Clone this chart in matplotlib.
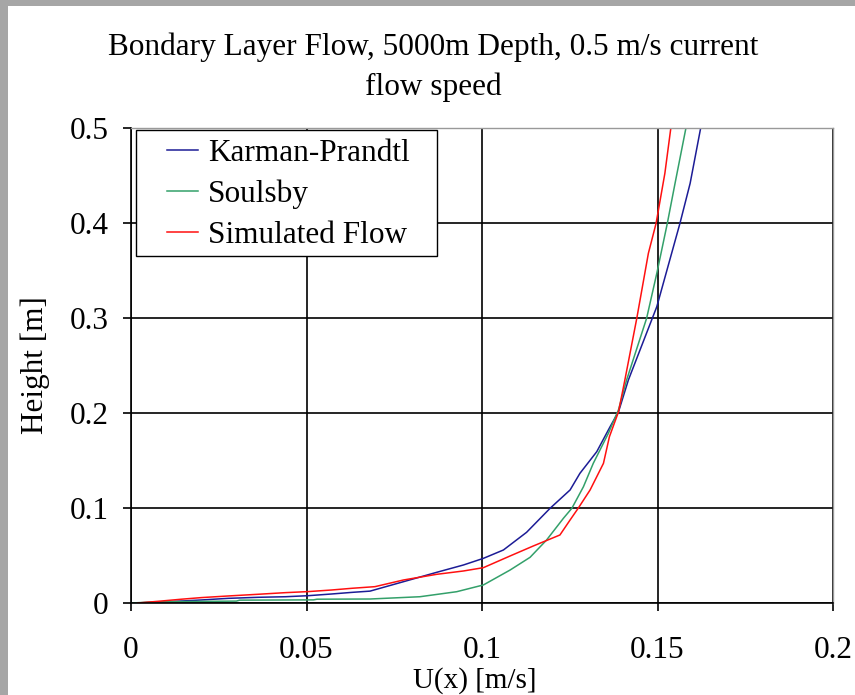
import matplotlib
matplotlib.use('Agg')
import matplotlib.pyplot as plt
from matplotlib.patches import Rectangle

# ---------------------------------------------------------------------------
# data (U [m/s], height [m])
# ---------------------------------------------------------------------------

kp_u = [0.0019, 0.0144, 0.0201, 0.0277, 0.0363, 0.0440, 0.0505, 0.0572,
        0.0630, 0.0681, 0.0776, 0.0871, 0.0947, 0.1004, 0.1061, 0.1127,
        0.1194, 0.1251, 0.1279, 0.1327, 0.1365, 0.1389, 0.1417, 0.1498,
        0.1564, 0.1593, 0.1623]
kp_z = [0.0, 0.0021, 0.0032, 0.0049, 0.0060, 0.0066, 0.0077, 0.0095,
        0.0112, 0.0125, 0.0224, 0.0323, 0.0400, 0.0470, 0.0558, 0.0744,
        0.0997, 0.1190, 0.1365, 0.1593, 0.1856, 0.2014, 0.2347, 0.3119,
        0.3997, 0.4418, 0.5000]

soul_u = [0.0, 0.0078, 0.0300, 0.0310, 0.0520, 0.0530, 0.0681, 0.0823,
          0.0928, 0.1004, 0.1080, 0.1137, 0.1184, 0.1232, 0.1256, 0.1289,
          0.1317, 0.1360, 0.1389, 0.1412, 0.1469, 0.1498, 0.1528, 0.1550,
          0.1581]
soul_z = [0.0, 0.0013, 0.0020, 0.0030, 0.0033, 0.0040, 0.0042, 0.0066,
          0.0119, 0.0190, 0.0347, 0.0481, 0.0663, 0.0892, 0.0997, 0.1224,
          0.1470, 0.1786, 0.2035, 0.2347, 0.2997, 0.3470, 0.3997, 0.4418,
          0.5000]

sim_u = [0.0019, 0.0078, 0.0144, 0.0201, 0.0277, 0.0363, 0.0440, 0.0505,
         0.0572, 0.0630, 0.0695, 0.0776, 0.0871, 0.0947, 0.1004, 0.1080,
         0.1146, 0.1222, 0.1251, 0.1274, 0.1308, 0.1346, 0.1363, 0.1389,
         0.1407, 0.1441, 0.1474, 0.1496, 0.1521, 0.1538]
sim_z = [0.0, 0.0018, 0.0040, 0.0057, 0.0074, 0.0092, 0.0109, 0.0120,
         0.0137, 0.0155, 0.0172, 0.0242, 0.0302, 0.0337, 0.0372, 0.0495,
         0.0600, 0.0716, 0.0874, 0.0997, 0.1190, 0.1470, 0.1750, 0.2014,
         0.2347, 0.2997, 0.3681, 0.3997, 0.4523, 0.5000]

x_ticks = [0, 0.05, 0.1, 0.15, 0.2]
x_tick_labels = ['0', '0.05', '0.1', '0.15', '0.2']
y_ticks = [0, 0.1, 0.2, 0.3, 0.4, 0.5]
y_tick_labels = ['0', '0.1', '0.2', '0.3', '0.4', '0.5']

plt.rcParams['font.family'] = ['Liberation Serif', 'DejaVu Serif']
FS = 22.5

W, H = 855, 695
fig = plt.figure(figsize=(W / 100, H / 100), dpi=100, facecolor='white')

# grey frame at left / top edge of the screenshot
fig.patches.append(Rectangle((0, 0), 8 / W, 1, transform=fig.transFigure,
                             facecolor='#a6a6a6', edgecolor='none', zorder=0))
fig.patches.append(Rectangle((0, 1 - 6 / H), 1, 6 / H, transform=fig.transFigure,
                             facecolor='#a6a6a6', edgecolor='none', zorder=0))

ax = fig.add_axes([131 / W, 1 - 603 / H, (833 - 131) / W, (603 - 128) / H])

ax.plot(kp_u, kp_z, color='#1c1c96', lw=1.1, label='Karman-Prandtl')
ax.plot(soul_u, soul_z, color='#33a06a', lw=1.1, label='Soulsby')
ax.plot(sim_u, sim_z, color='#ff1010', lw=1.1, label='Simulated Flow')

ax.set_xlim(0, 0.2)
ax.set_ylim(0, 0.5)
ax.set_xticks(x_ticks)
ax.set_xticklabels(x_tick_labels)
ax.set_yticks(y_ticks)
ax.set_yticklabels(y_tick_labels)
ax.grid(True, color='black', lw=1.2)
ax.set_axisbelow(True)

for s in ('top', 'right'):
    ax.spines[s].set_color('#999999')
    ax.spines[s].set_linewidth(1.0)
for s in ('left', 'bottom'):
    ax.spines[s].set_color('black')
    ax.spines[s].set_linewidth(1.2)

ax.tick_params(axis='x', direction='out', length=6, width=1.2, pad=18,
               labelsize=FS)
ax.tick_params(axis='y', direction='out', length=6, width=1.2, pad=10,
               labelsize=FS)

# legend box (white, black border) with entries placed inside it
ax.add_patch(Rectangle((136 / W, 1 - 256 / H), (437 - 136) / W, (256 - 130) / H,
                       transform=fig.transFigure, facecolor='white',
                       edgecolor='black', lw=1.0, zorder=4))
leg = ax.legend(loc='upper left', bbox_to_anchor=(167 / W, 1 - 139 / H),
                bbox_transform=fig.transFigure, borderaxespad=0, borderpad=0,
                fontsize=FS, frameon=False, handlelength=1.0,
                handletextpad=0.3, labelspacing=0.38)
leg.set_zorder(5)

fig.text(433 / W, 1 - 47 / H, 'Bondary Layer Flow, 5000m Depth, 0.5 m/s current',
         ha='center', va='center', fontsize=FS)
fig.text(433 / W, 1 - 87 / H, 'flow speed', ha='center', va='center', fontsize=FS)
fig.text(35 / W, 1 - 365 / H, 'Height [m]', rotation=90, ha='center',
         va='center', fontsize=FS)
fig.text(475 / W, 1 - 694 / H, 'U(x) [m/s]', ha='center', va='bottom', fontsize=21)

fig.savefig('out.png', dpi=100, facecolor='white')
